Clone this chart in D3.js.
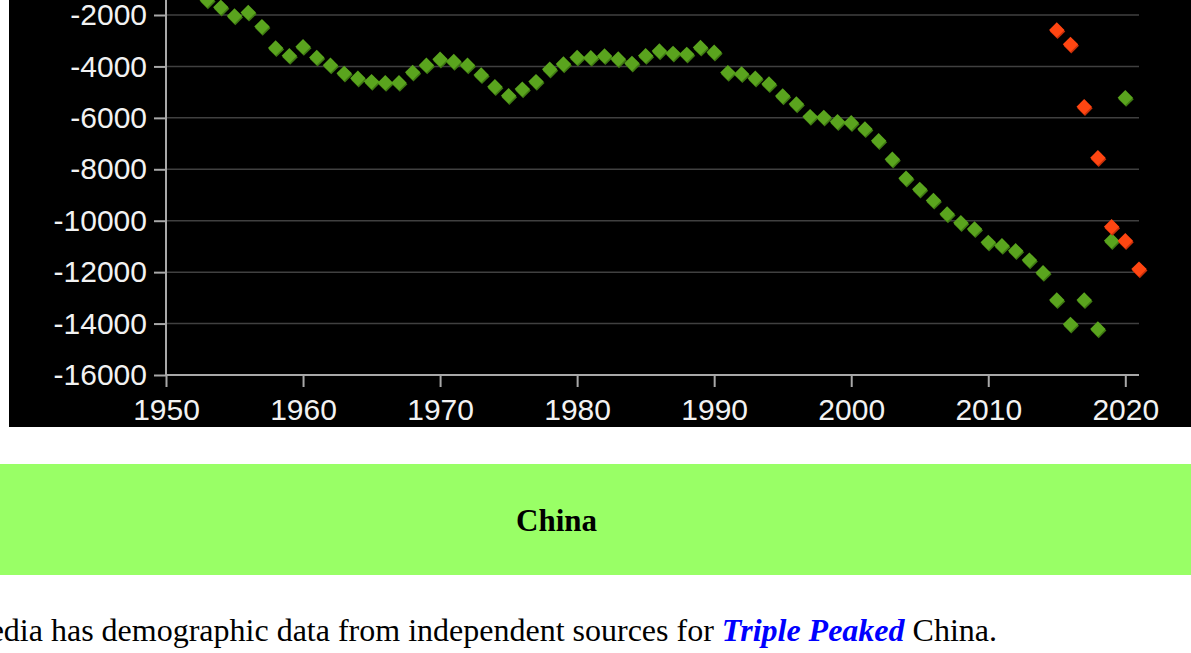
<!DOCTYPE html>
<html>
<head>
<meta charset="utf-8">
<script src="https://cdn.jsdelivr.net/npm/d3@7"></script>
<style>
  html, body { margin: 0; padding: 0; background: #fff; overflow: hidden; }
  .tick text { font-family: "Liberation Sans", Arial, sans-serif; }
</style>
</head>
<body>
<div id="chart"></div>
<script>
// net migration estimates
var greenYears = [1953, 1954, 1955, 1956, 1957, 1958, 1959, 1960, 1961, 1962,
  1963, 1964, 1965, 1966, 1967, 1968, 1969, 1970, 1971, 1972,
  1973, 1974, 1975, 1976, 1977, 1978, 1979, 1980, 1981, 1982,
  1983, 1984, 1985, 1986, 1987, 1988, 1989, 1990, 1991, 1992,
  1993, 1994, 1995, 1996, 1997, 1998, 1999, 2000, 2001, 2002,
  2003, 2004, 2005, 2006, 2007, 2008, 2009, 2010, 2011, 2012,
  2013, 2014, 2015, 2016, 2017, 2018, 2019, 2020];
var greenValues = [-1420, -1700, -2040, -1900, -2450, -3280, -3580, -3230, -3650, -3950,
  -4270, -4460, -4590, -4630, -4630, -4230, -3950, -3720, -3810, -3950,
  -4330, -4790, -5140, -4880, -4590, -4110, -3905, -3650, -3660, -3590,
  -3710, -3880, -3580, -3400, -3490, -3530, -3260, -3450, -4240, -4290,
  -4460, -4680, -5150, -5460, -5950, -5980, -6150, -6190, -6430, -6890,
  -7610, -8350, -8780, -9210, -9740, -10080, -10320, -10840, -10970, -11170,
  -11530, -12020, -13080, -14030, -13080, -14210, -10780, -5215];

var redYears = [2015, 2016, 2017, 2018, 2019, 2020, 2021];
var redValues = [-2580, -3140, -5570, -7550, -10230, -10780, -11880];

var xTicks = [1950, 1960, 1970, 1980, 1990, 2000, 2010, 2020];
var yTicks = [-16000, -14000, -12000, -10000, -8000, -6000, -4000, -2000];

var width = 1191, height = 653;

var svg = d3.select("#chart").append("svg")
  .attr("width", width)
  .attr("height", height);

// black plot panel
svg.append("rect")
  .attr("x", 9).attr("y", 0)
  .attr("width", width - 9).attr("height", 427)
  .attr("fill", "#000");

var x = d3.scaleLinear().domain([1950, 2021]).range([166, 1139]);
var y = d3.scaleLinear().domain([-16000, -2000]).range([375, 15]);

var plot = svg.append("g");

// grid
plot.selectAll("line.grid")
  .data(yTicks.filter(d => d > -16000))
  .enter().append("line")
  .attr("class", "grid")
  .attr("x1", x(1950)).attr("x2", x(2021))
  .attr("y1", d => y(d)).attr("y2", d => y(d))
  .attr("stroke", "#404040")
  .attr("stroke-width", 1.5);

var yAxis = plot.append("g")
  .attr("transform", "translate(" + x(1950) + ",0)")
  .call(d3.axisLeft(y).tickValues(yTicks).tickSize(12).tickPadding(7)
    .tickFormat(d => String(d)));

var xAxis = plot.append("g")
  .attr("transform", "translate(0," + y(-16000) + ")")
  .call(d3.axisBottom(x).tickValues(xTicks).tickSize(12).tickSizeOuter(0).tickPadding(12)
    .tickFormat(d => String(d)));

[yAxis, xAxis].forEach(function(a) {
  a.select(".domain").remove();
  a.selectAll(".tick line").attr("stroke", "#a8a8a8").attr("stroke-width", 2);
  a.selectAll(".tick text").attr("fill", "#f2f2f2").style("font-size", "30px");
});

// axis lines
plot.append("line")
  .attr("x1", x(1950)).attr("x2", x(1950))
  .attr("y1", y(-16000) + 1).attr("y2", 0)
  .attr("stroke", "#a8a8a8").attr("stroke-width", 2);
plot.append("line")
  .attr("x1", x(1950) - 1).attr("x2", x(2021))
  .attr("y1", y(-16000)).attr("y2", y(-16000))
  .attr("stroke", "#a8a8a8").attr("stroke-width", 2);

var diamond = d3.symbol().type(d3.symbolSquare).size(118);

function drawSeries(years, values, fill, shade) {
  var pts = years.map((yr, i) => ({year: yr, value: values[i]}));
  var g = plot.append("g");
  g.selectAll("path.shade").data(pts).enter().append("path")
    .attr("d", diamond)
    .attr("fill", shade)
    .attr("transform", d => "translate(" + (x(d.year) + 0.8) + "," + (y(d.value) + 1.5) + ") rotate(45)");
  g.selectAll("path.pt").data(pts).enter().append("path")
    .attr("d", diamond)
    .attr("fill", fill)
    .attr("transform", d => "translate(" + x(d.year) + "," + y(d.value) + ") rotate(45)");
}

drawSeries(greenYears, greenValues, "#5aa41e", "#3f7a12");
drawSeries(redYears, redValues, "#ff4612", "#c8300a");

// section heading band
svg.append("rect")
  .attr("x", 0).attr("y", 464)
  .attr("width", width).attr("height", 111)
  .attr("fill", "#99ff66");

svg.append("text")
  .attr("x", 556.5).attr("y", 531)
  .attr("text-anchor", "middle")
  .style("font-family", '"Liberation Serif", "Times New Roman", serif')
  .style("font-weight", "bold")
  .style("font-size", "31px")
  .attr("fill", "#000")
  .text("China");

var para = svg.append("text")
  .attr("x", 997).attr("y", 641)
  .attr("text-anchor", "end")
  .style("font-family", '"Liberation Serif", "Times New Roman", serif')
  .style("font-size", "32px")
  .attr("fill", "#000");
para.append("tspan").text("Wikipedia has demographic data from independent sources for ");
para.append("tspan")
  .style("font-weight", "bold").style("font-style", "italic")
  .attr("fill", "#0000ff")
  .text("Triple Peaked");
para.append("tspan").text(" China.");
</script>
</body>
</html>
